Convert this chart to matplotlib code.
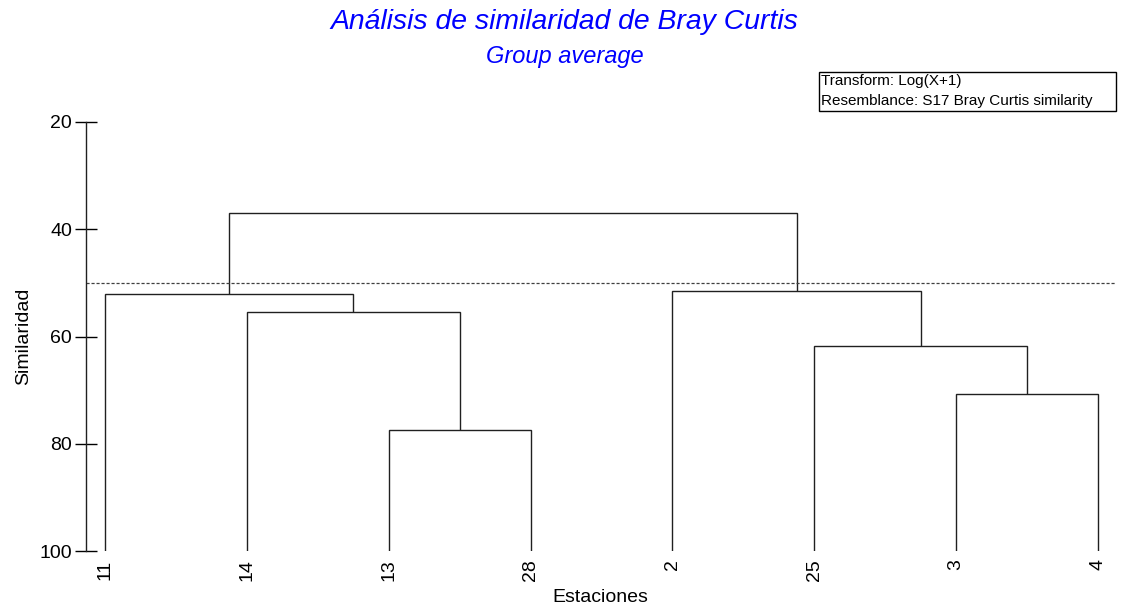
import matplotlib
matplotlib.use('Agg')
import matplotlib.pyplot as plt
from matplotlib.patches import Rectangle

plt.rcParams['font.family'] = ['Liberation Sans', 'DejaVu Sans']

# Leaf order (stations) as drawn left to right
estaciones = ['11', '14', '13', '28', '2', '25', '3', '4']

# Merges: ids 0-7 are leaves, each merge creates id 8, 9, ...
merge_a = [2, 6, 5, 1, 0, 4, 12]
merge_b = [3, 7, 9, 8, 11, 10, 13]
merge_sim = [77.5, 70.7, 61.8, 55.4, 52.1, 51.5, 37.0]

corte = 50.0

fig = plt.figure(figsize=(11.21, 6.07), dpi=100)
ax = fig.add_axes([86 / 1121, 1 - 551 / 607, (1115 - 86) / 1121, (551 - 122) / 607])

# x position and height of every node
pos_x = {i: float(i) for i in range(len(estaciones))}
pos_y = {i: 100.0 for i in range(len(estaciones))}
for k, (a, b, s) in enumerate(zip(merge_a, merge_b, merge_sim)):
    node = len(estaciones) + k
    ax.plot([pos_x[a], pos_x[a], pos_x[b], pos_x[b]],
            [pos_y[a], s, s, pos_y[b]], color='#202020', lw=1.0,
            solid_joinstyle='miter', solid_capstyle='butt')
    pos_x[node] = (pos_x[a] + pos_x[b]) / 2
    pos_y[node] = s

ax.axhline(corte, color='#404040', lw=0.9, ls=(0, (2.5, 1.5)))

ax.set_xlim(-0.134, 7.12)
ax.set_ylim(100, 20)
ax.set_yticks([20, 40, 60, 80, 100])
ax.set_xticks(range(len(estaciones)))
ax.set_xticklabels(estaciones, rotation=90, fontsize=14)
ax.tick_params(axis='x', length=0, pad=6)
ax.tick_params(axis='y', direction='inout', length=16, width=1, labelsize=14, pad=2)

for side in ['top', 'right', 'bottom']:
    ax.spines[side].set_visible(False)
ax.spines['left'].set_linewidth(1)
ax.spines['left'].set_color('#202020')

ax.set_xlabel('Estaciones', fontsize=14)
ax.set_ylabel('Similaridad', fontsize=14)
ax.xaxis.set_label_coords((600 - 86) / (1115 - 86), -38 / 429)
ax.yaxis.set_label_coords(-(86 - 32) / 1029, 0.5)

fig.text(564 / 1121, 1 - 22 / 607, 'Análisis de similaridad de Bray Curtis',
         color='#0000FF', fontsize=20.4, style='italic', ha='center', va='center')
fig.text(565 / 1121, 1 - 57 / 607, 'Group average',
         color='#0000FF', fontsize=17, style='italic', ha='center', va='center')

fig.add_artist(Rectangle((819 / 1121, 1 - 111 / 607), 297 / 1121, 39 / 607,
                         transform=fig.transFigure, fc='white', ec='black', lw=1.0))
fig.text(821 / 1121, 1 - 81 / 607, 'Transform: Log(X+1)',
         fontsize=11, ha='left', va='center')
fig.text(821 / 1121, 1 - 101 / 607, 'Resemblance: S17 Bray Curtis similarity',
         fontsize=11, ha='left', va='center')

plt.savefig('out.png', dpi=100)
